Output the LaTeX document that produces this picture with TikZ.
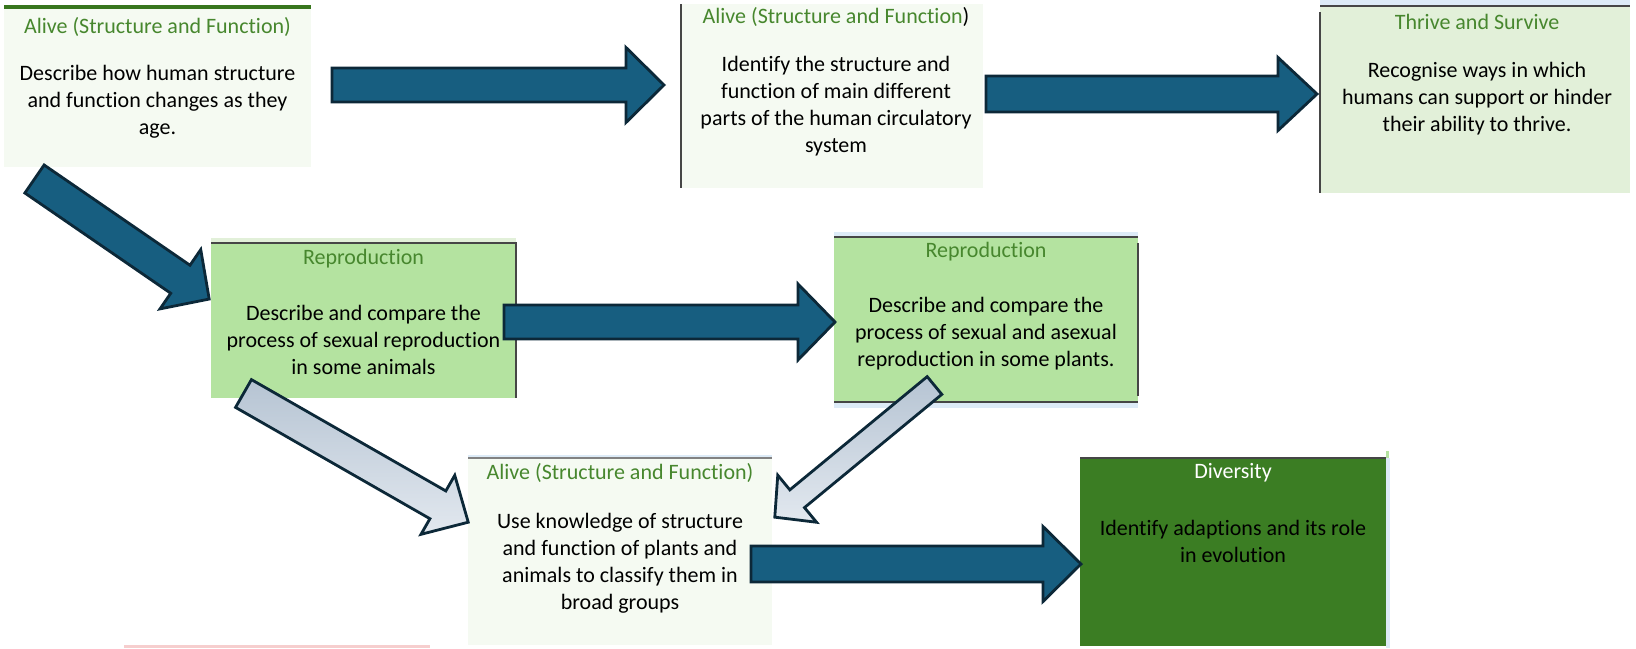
\documentclass[tikz,border=0pt]{standalone}
\usepackage{fontspec}
\setmainfont{Carlito}[Ligatures={NoCommon,NoContextual},RawFeature={-liga;-clig;-calt;-dlig}]
\tikzset{every picture/.style={line width=0.75pt}}
\definecolor{palegreen}{RGB}{245,250,242}
\definecolor{softgreen}{RGB}{226,240,217}
\definecolor{leafgreen}{RGB}{180,227,160}
\definecolor{darkleaf}{RGB}{59,125,35}
\definecolor{titlegreen}{RGB}{71,135,46}
\definecolor{paleblue}{RGB}{221,235,247}
\definecolor{arrowblue}{RGB}{23,94,128}
\definecolor{arrowline}{RGB}{12,40,56}
\definecolor{greyblueA}{RGB}{182,196,211}
\definecolor{greyblueB}{RGB}{226,232,239}
\definecolor{palepink}{RGB}{246,206,206}
\tikzset{
  card/.style={rectangle, draw=none, inner sep=0pt, outer sep=0pt},
  cardtitle/.style={inner sep=0pt, text=titlegreen, font=\fontsize{11}{13.5}\selectfont},
  cardtext/.style={inner sep=0pt, align=center, font=\fontsize{11}{13.5}\selectfont},
  edgeline/.style={draw={rgb,255:red,70;green,70;blue,70}, line width=0.6pt},
  bluearrow/.style={draw=arrowline, fill=arrowblue, line width=1.4pt, line join=miter},
  greyarrow/.style={draw=arrowline, top color=greyblueA, bottom color=greyblueB, line width=1.4pt, line join=miter}
}
\begin{document}
\begin{tikzpicture}[x=0.5pt,y=0.5pt,yscale=-1,xscale=1]
\useasboundingbox (0,0) rectangle (1636,648);

%Shape: Rectangle [alive1]
\node[card, fill=palegreen, minimum width=153.5pt, minimum height=80pt] (alive1) at (157.5,87) {};
\draw [draw={rgb,255:red,56;green,118;blue,29}, line width=1.6pt] (alive1.north west) -- (alive1.north east);
%Shape: Rectangle [alive2]
\node[card, fill=palegreen, minimum width=151pt, minimum height=92pt] (alive2) at (832,96) {};
\draw [edgeline] (alive2.north west) -- (alive2.south west);
%Shape: Rectangle [thrive]
\fill [paleblue] (1320,0) rectangle (1630,6);
\node[card, fill=softgreen, minimum width=155pt, minimum height=93.5pt] (thrive) at (1475,99.5) {};
\draw [edgeline] (thrive.north west) -- (thrive.north east);
\draw [edgeline] ([yshift=3pt]thrive.north west) -- (thrive.south west);
%Shape: Rectangle [repro1]
\fill [softgreen] (211,238) rectangle (516,243);
\node[card, fill=leafgreen, minimum width=152.5pt, minimum height=77.5pt] (repro1) at (363.5,320.5) {};
\draw [edgeline] (repro1.north west) -- (repro1.north east) -- (repro1.south east);
%Shape: Rectangle [repro2]
\fill [paleblue] (834,232) rectangle (1138,237);
\fill [paleblue] (834,402) rectangle (1138,408);
\node[card, fill=leafgreen, minimum width=152pt, minimum height=82.5pt] (repro2) at (986,319.5) {};
\draw [edgeline] (repro2.north west) -- (repro2.north east);
\draw [edgeline] (repro2.south west) -- (repro2.south east);
\draw [edgeline] ([yshift=3pt]repro2.north east) -- ([yshift=-3pt]repro2.south east);
%Shape: Rectangle [alive3]
\fill [paleblue] (468,455) rectangle (772,458);
\node[card, fill=palegreen, minimum width=152pt, minimum height=93.5pt] (alive3) at (620,551.5) {};
\draw [draw={rgb,255:red,130;green,130;blue,130}, line width=0.9pt] (alive3.north west) -- (alive3.north east);
%Shape: Rectangle [diversity]
\fill [paleblue] (1386,458) rectangle (1390,648);
\fill [leafgreen] (1386,451) rectangle (1389,458);
\node[card, fill=darkleaf, minimum width=153pt, minimum height=94pt] (diversity) at (1233,552) {};
\draw [edgeline] (diversity.north west) -- (diversity.north east);
%Shape: Rectangle
\fill [palepink] (124,645) rectangle (430,648);

%Right Arrow [alive1 to alive2]
\draw [bluearrow, shift={(332,85)}, rotate=0] (0,-17) -- (294,-17) -- (294,-37.5) -- (332,0) -- (294,37.5) -- (294,17) -- (0,17) -- cycle;
%Right Arrow [alive2 to thrive]
\draw [bluearrow, shift={(986,94)}, rotate=0] (0,-18) -- (292,-18) -- (292,-36.5) -- (331,0) -- (292,36.5) -- (292,18) -- (0,18) -- cycle;
%Right Arrow [alive1 to repro1]
\draw [bluearrow, shift={(34.5,179)}, rotate=34.5] (0,-17) -- (177,-17) -- (177,-36) -- (212,0) -- (177,36) -- (177,17) -- (0,17) -- cycle;
%Right Arrow [repro1 to repro2]
\draw [bluearrow, shift={(504,322)}, rotate=0] (0,-17) -- (294,-17) -- (294,-38) -- (331,0) -- (294,38) -- (294,17) -- (0,17) -- cycle;
%Right Arrow [repro1 to alive3]
\draw [greyarrow, shift={(243.5,393.5)}, rotate=29.8] (0,-16) -- (224,-16) -- (224,-34) -- (259,0) -- (224,34) -- (224,16) -- (0,16) -- cycle;
%Right Arrow [repro2 to alive3]
\draw [greyarrow, shift={(934.5,385.5)}, rotate=140.5] (0,-11.5) -- (178,-11.5) -- (178,-30.5) -- (207,0) -- (178,30.5) -- (178,11.5) -- (0,11.5) -- cycle;
%Right Arrow [alive3 to diversity]
\draw [bluearrow, shift={(751,564)}, rotate=0] (0,-18) -- (292,-18) -- (292,-37.5) -- (330,0) -- (292,37.5) -- (292,18) -- (0,18) -- cycle;

% Text Node
\node[cardtitle] (alive1t) at (157.5,27) {Alive (Structure and Function)};
% Text Node
\node[cardtext] (alive1b) at (157.5,102) {Describe how human structure\\and function changes as they\\age.};
% Text Node
\node[cardtitle] (alive2t) at (836,17) {Alive (Structure and Function\textcolor{black}{)}};
% Text Node
\node[cardtext] (alive2b) at (836,106) {Identify the structure and\\function of main different\\parts of the human circulatory\\system};
% Text Node
\node[cardtitle] (thrivet) at (1477,22) {Thrive and Survive};
% Text Node
\node[cardtext] (thriveb) at (1477,99) {Recognise ways in which\\humans can support or hinder\\their ability to thrive.};
% Text Node
\node[cardtitle] (repro1t) at (363.5,259) {Reproduction};
% Text Node
\node[cardtext] (repro1b) at (363.5,340) {Describe and compare the\\process of sexual reproduction\\in some animals};
% Text Node
\node[cardtitle] (repro2t) at (986,252) {Reproduction};
% Text Node
\node[cardtext] (repro2b) at (986,334) {Describe and compare the\\process of sexual and asexual\\reproduction in some plants.};
% Text Node
\node[cardtitle] (alive3t) at (620,473) {Alive (Structure and Function)};
% Text Node
\node[cardtext] (alive3b) at (620,563.5) {Use knowledge of structure\\and function of plants and\\animals to classify them in\\broad groups};
% Text Node
\node[cardtitle, text=white] (diversityt) at (1233,473) {Diversity};
% Text Node
\node[cardtext] (diversityb) at (1233,541.5) {Identify adaptions and its role\\in evolution};
\end{tikzpicture}
\end{document}
